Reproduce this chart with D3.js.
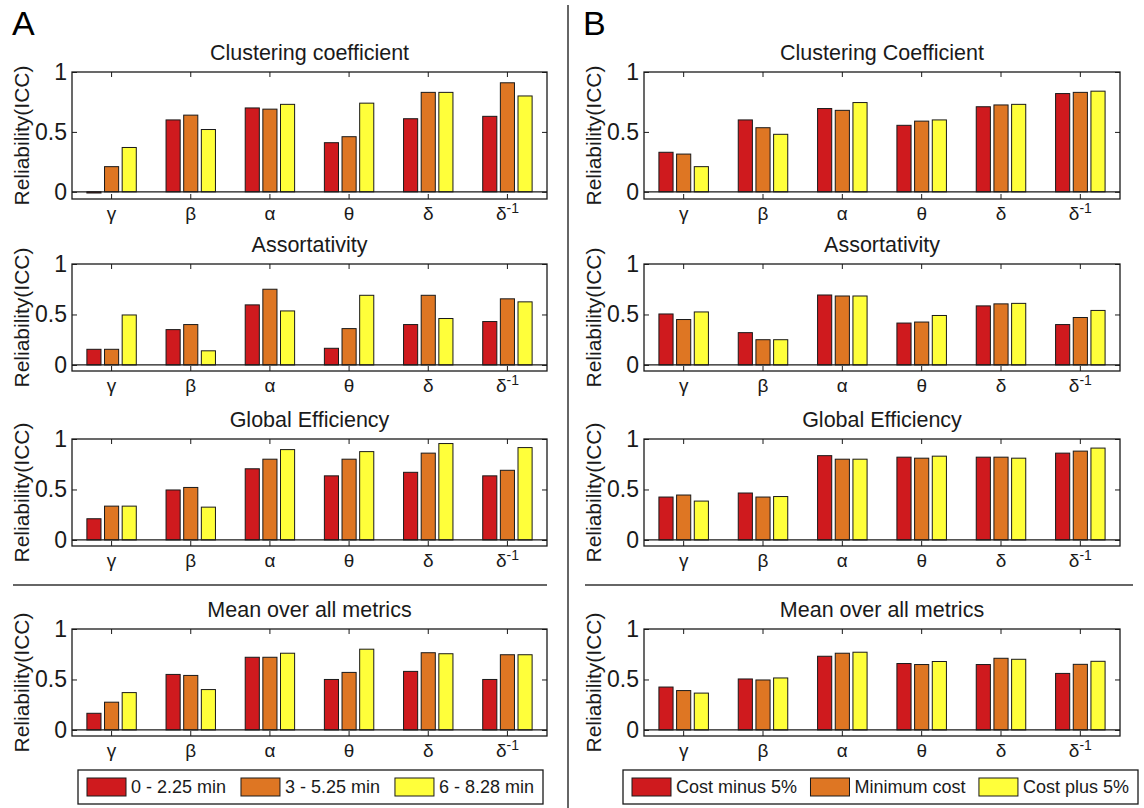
<!DOCTYPE html>
<html>
<head>
<meta charset="utf-8">
<script src="https://cdn.jsdelivr.net/npm/d3@7"></script>
<style>
  body { margin: 0; background: #fff; }
  svg { display: block; font-family: 'Liberation Sans', Arial, sans-serif; }
</style>
</head>
<body>
<div id="area"></div>
<script>
// categories (frequency bands) and labels
let bands = ['γ', 'β', 'α', 'θ', 'δ', 'δ-1']
let titlesA = ['Clustering coefficient', 'Assortativity', 'Global Efficiency', 'Mean over all metrics']
let titlesB = ['Clustering Coefficient', 'Assortativity', 'Global Efficiency', 'Mean over all metrics']
let legendA = ['0 - 2.25 min', '3 - 5.25 min', '6 - 8.28 min']
let legendB = ['Cost minus 5%', 'Minimum cost', 'Cost plus 5%']
let yTicks = [0, 0.5, 1]

// values per band: [series1, series2, series3]
let clusteringA = [[-0.01, 0.21, 0.37], [0.60, 0.64, 0.52], [0.70, 0.69, 0.73], [0.41, 0.46, 0.74], [0.61, 0.83, 0.83], [0.63, 0.91, 0.80]]
let assortA = [[0.155, 0.155, 0.495], [0.35, 0.40, 0.14], [0.595, 0.75, 0.535], [0.165, 0.36, 0.69], [0.40, 0.69, 0.46], [0.43, 0.655, 0.625]]
let efficiencyA = [[0.21, 0.335, 0.335], [0.495, 0.52, 0.325], [0.705, 0.80, 0.895], [0.635, 0.80, 0.875], [0.67, 0.86, 0.955], [0.635, 0.69, 0.915]]
let meanA = [[0.165, 0.275, 0.37], [0.55, 0.54, 0.40], [0.72, 0.72, 0.76], [0.50, 0.57, 0.80], [0.58, 0.765, 0.755], [0.50, 0.745, 0.745]]

let clusteringB = [[0.33, 0.315, 0.21], [0.60, 0.535, 0.48], [0.695, 0.68, 0.745], [0.555, 0.59, 0.60], [0.71, 0.725, 0.73], [0.82, 0.83, 0.84]]
let assortB = [[0.505, 0.45, 0.525], [0.32, 0.25, 0.25], [0.693, 0.683, 0.683], [0.415, 0.425, 0.49], [0.585, 0.605, 0.61], [0.40, 0.47, 0.54]]
let efficiencyB = [[0.425, 0.445, 0.385], [0.465, 0.425, 0.43], [0.835, 0.80, 0.80], [0.82, 0.81, 0.83], [0.82, 0.82, 0.81], [0.86, 0.88, 0.91]]
let meanB = [[0.425, 0.39, 0.365], [0.505, 0.495, 0.515], [0.73, 0.76, 0.77], [0.658, 0.648, 0.678], [0.648, 0.71, 0.70], [0.56, 0.65, 0.68]]

let colors = ['#cf1a1e', '#de7623', '#ffff3a']
let ink = '#1a1a1a'

let width = 1144
let height = 808

// layout
let panels = [
  { letter: 'A', lx: 12, left: 72, right: 547, sep: [13, 547], legend: [78, 543], titles: titlesA, labels: legendA, data: [clusteringA, assortA, efficiencyA, meanA] },
  { letter: 'B', lx: 583, left: 644, right: 1120, sep: [585, 1133], legend: [623, 1138], titles: titlesB, labels: legendB, data: [clusteringB, assortB, efficiencyB, meanB] }
]
let rowTops = [72, 264, 439, 629]
let rowBottoms = [199, 371, 546, 736]

let svg = d3.select('#area').append('svg')
  .attr('width', width)
  .attr('height', height)

// vertical divider between A and B
svg.append('line')
  .attr('x1', 568).attr('x2', 568)
  .attr('y1', 5).attr('y2', height)
  .attr('stroke', '#333').attr('stroke-width', 1.5)

function drawChart(p, r) {
  let top = rowTops[r], bottom = rowBottoms[r]
  let values = p.data[r]

  let x0 = d3.scaleBand().domain(bands).range([p.left, p.right])
  let groupW = x0.bandwidth() * 0.624
  let x1 = d3.scaleBand().domain([0, 1, 2]).range([0, groupW]).paddingInner(0.2)
  let y = d3.scaleLinear().domain([-0.06, 1]).range([bottom, top])

  let g = svg.append('g')

  // title
  g.append('text')
    .attr('x', (p.left + p.right) / 2)
    .attr('y', top - 20)
    .attr('dy', '0.35em')
    .attr('text-anchor', 'middle')
    .attr('font-size', 21.5)
    .attr('fill', ink)
    .text(p.titles[r])

  // bars
  let groups = g.selectAll('g.band')
    .data(values)
    .join('g')
    .attr('class', 'band')
    .attr('transform', (d, i) => 'translate(' + (x0(bands[i]) + (x0.bandwidth() - groupW) / 2) + ',0)')

  groups.selectAll('rect')
    .data(d => d)
    .join('rect')
    .attr('x', (d, i) => x1(i))
    .attr('width', x1.bandwidth())
    .attr('y', d => y(Math.max(0, d)))
    .attr('height', d => Math.max(0.8, Math.abs(y(d) - y(0))))
    .attr('fill', (d, i) => colors[i])
    .attr('stroke', ink)
    .attr('stroke-width', 1)

  // baseline at zero
  g.append('line')
    .attr('x1', p.left).attr('x2', p.right)
    .attr('y1', y(0)).attr('y2', y(0))
    .attr('stroke', ink).attr('stroke-width', 1.3)

  // axes: left labels, ticks on all four sides pointing in
  let leftAxis = d3.axisLeft(y).tickValues(yTicks).tickFormat(d3.format('')).tickSize(-5).tickPadding(5)
  let la = g.append('g').attr('transform', 'translate(' + p.left + ',0)').call(leftAxis)
  la.selectAll('text').attr('font-size', 23).attr('fill', ink).attr('font-family', 'Liberation Sans, Arial, sans-serif')

  let rightAxis = d3.axisRight(y).tickValues(yTicks).tickFormat('').tickSize(-5)
  g.append('g').attr('transform', 'translate(' + p.right + ',0)').call(rightAxis)

  let bottomAxis = d3.axisBottom(x0).tickSize(-5).tickFormat('')
  g.append('g').attr('transform', 'translate(0,' + bottom + ')').call(bottomAxis)
  let topAxis = d3.axisTop(x0).tickSize(-5).tickFormat('')
  g.append('g').attr('transform', 'translate(0,' + top + ')').call(topAxis)

  g.selectAll('.domain').remove()
  g.selectAll('.tick line').attr('stroke', ink)

  // frame
  g.append('rect')
    .attr('x', p.left).attr('y', top)
    .attr('width', p.right - p.left).attr('height', bottom - top)
    .attr('fill', 'none').attr('stroke', ink).attr('stroke-width', 1.3)

  // greek band labels
  let lbl = g.selectAll('text.band-label')
    .data(bands)
    .join('text')
    .attr('class', 'band-label')
    .attr('x', d => x0(d) + x0.bandwidth() / 2)
    .attr('y', bottom + 21)
    .attr('text-anchor', 'middle')
    .attr('font-size', 19)
    .attr('fill', ink)
  lbl.each(function(d) {
    let t = d3.select(this)
    if (d == 'δ-1') {
      t.append('tspan').text('δ')
      t.append('tspan').attr('dy', -7).attr('font-size', 14).text('-1')
    } else {
      t.text(d)
    }
  })

  // y label
  g.append('text')
    .attr('transform', 'translate(' + (p.left - 50) + ',' + ((top + bottom) / 2) + ') rotate(-90)')
    .attr('dy', '0.35em')
    .attr('text-anchor', 'middle')
    .attr('font-size', 21)
    .attr('fill', ink)
    .text('Reliability(ICC)')
}

function drawLegend(p) {
  let top = 770, bottom = 804
  let lg = svg.append('g')
  lg.append('rect')
    .attr('x', p.legend[0]).attr('y', top)
    .attr('width', p.legend[1] - p.legend[0]).attr('height', bottom - top)
    .attr('fill', '#fff').attr('stroke', ink).attr('stroke-width', 1.3)

  // measure labels first, then spread the items across the box
  let texts = p.labels.map(function(name) {
    return lg.append('text')
      .attr('y', (top + bottom) / 2)
      .attr('dy', '0.35em')
      .attr('font-size', 18)
      .attr('fill', ink)
      .text(name)
  })
  let lens = texts.map(t => t.node().getComputedTextLength())
  let inner = (p.legend[1] - p.legend[0]) - 18
  let gap = (inner - d3.sum(lens) - 3 * 44) / 2

  let cx = p.legend[0] + 9
  texts.forEach(function(t, i) {
    lg.append('rect')
      .attr('x', cx).attr('y', (top + bottom) / 2 - 9)
      .attr('width', 39).attr('height', 18)
      .attr('fill', colors[i]).attr('stroke', ink).attr('stroke-width', 1)
    t.attr('x', cx + 44)
    cx += 44 + lens[i] + gap
  })
}

panels.forEach(function(p) {
  svg.append('text')
    .attr('x', p.lx).attr('y', 35)
    .attr('font-size', 34)
    .attr('fill', '#000')
    .text(p.letter)

  for (let r = 0; r < 4; r++) drawChart(p, r)

  svg.append('line')
    .attr('x1', p.sep[0]).attr('x2', p.sep[1])
    .attr('y1', 585).attr('y2', 585)
    .attr('stroke', '#333').attr('stroke-width', 1.5)

  drawLegend(p)
})
</script>
</body>
</html>
